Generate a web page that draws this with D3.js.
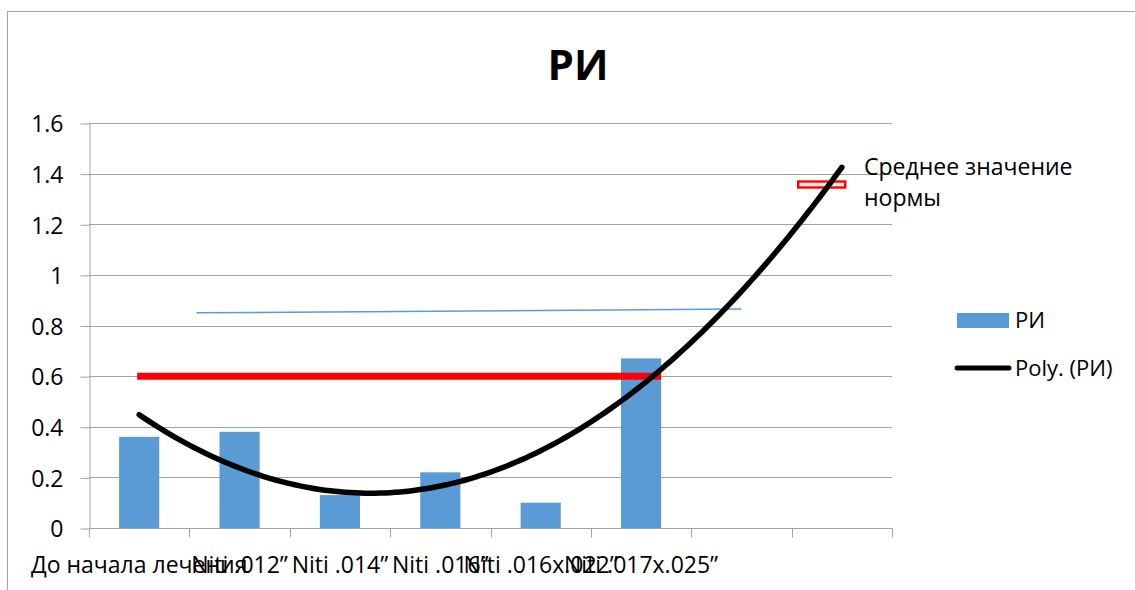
<!DOCTYPE html>
<html>
<head>
<meta charset="utf-8">
<script src="https://cdn.jsdelivr.net/npm/d3@7"></script>
<style>
  html, body { margin: 0; padding: 0; background: #fff; }
  svg { display: block; }
  text { font-family: "Open Sans", "DejaVu Sans", sans-serif; fill: #000; }
</style>
</head>
<body>
<svg id="chart" width="1135" height="590"></svg>
<script>
// ---- data ----
const categories = ["До начала лечения", "Niti .012”", "Niti .014”", "Niti .016”", "Niti .016x.022”", "Niti .017x.025”", "", ""];
const riValues = [0.36, 0.38, 0.13, 0.22, 0.10, 0.67];
const yTicks = [0, 0.2, 0.4, 0.6, 0.8, 1, 1.2, 1.4, 1.6];
const trendOrder = 2;          // polynomial trendline
const trendForward = 2;        // periods projected ahead
const normLevel = 0.6;         // thick red reference line
const normFrom = 0, normTo = 5; // categories the reference line spans
const guideLine = [{ pos: 0.57, value: 0.85 }, { pos: 6.0, value: 0.865 }];
const normMarker = { pos: 6.8, value: 1.357 };
const noteLines = ["Среднее значение", "нормы"];
const titleText = "РИ";
const legendItems = ["РИ", "Poly. (РИ)"];

// ---- layout ----
const svg = d3.select("#chart");
const plot = { left: 89, right: 892, top: 123, bottom: 528 };
const gridColor = "#a3a3a3";
const barColor = "#5b9bd5";

// chart frame
svg.append("rect")
  .attr("x", 7.5).attr("y", 11.5)
  .attr("width", 1200).attr("height", 700)
  .attr("fill", "none").attr("stroke", gridColor);

const x = d3.scaleBand().domain(d3.range(categories.length))
  .range([plot.left, plot.right]).paddingInner(0).paddingOuter(0);
const bw = x.bandwidth();
const xc = d3.scaleLinear().domain([0, categories.length])
  .range([plot.left + bw / 2, plot.right + bw / 2]); // category index -> centre
const y = d3.scaleLinear().domain([0, 1.6]).range([plot.bottom, plot.top]);

// horizontal gridlines
svg.append("g").selectAll("line").data(yTicks.slice(1)).join("line")
  .attr("x1", plot.left).attr("x2", plot.right)
  .attr("y1", d => Math.round(y(d)) + 0.5).attr("y2", d => Math.round(y(d)) + 0.5)
  .attr("stroke", gridColor).attr("stroke-width", 1);

// y axis
const yAxis = svg.append("g")
  .attr("transform", `translate(${plot.left + 0.5},0.5)`)
  .call(d3.axisLeft(y).tickValues(yTicks).tickFormat(d => String(d))
    .tickSizeInner(9).tickSizeOuter(0).tickPadding(17));
yAxis.select(".domain").attr("stroke", gridColor);
yAxis.selectAll(".tick line").attr("stroke", gridColor);
yAxis.selectAll(".tick text")
  .style("font-size", "23px").attr("dy", "0.36em");

// x axis: boundary ticks
const xTicks = svg.append("g")
  .attr("transform", `translate(0.5,${plot.bottom + 0.5})`);
xTicks.append("line").attr("x1", plot.left).attr("x2", plot.right)
  .attr("stroke", gridColor);
xTicks.selectAll("line.b").data(d3.range(categories.length + 1)).join("line")
  .attr("class", "b")
  .attr("x1", i => Math.round(plot.left + i * bw)).attr("x2", i => Math.round(plot.left + i * bw))
  .attr("y1", 0).attr("y2", 9).attr("stroke", gridColor);

// x axis: category labels
const xAxis = svg.append("g")
  .attr("transform", `translate(0,${plot.bottom})`)
  .call(d3.axisBottom(x).tickFormat(i => categories[i]).tickSize(0).tickPadding(29));
xAxis.select(".domain").remove();
xAxis.selectAll(".tick text").style("font-size", "23px");

// bars
const barW = bw * 0.4;
svg.append("g").selectAll("rect").data(riValues).join("rect")
  .attr("x", (d, i) => x(i) + (bw - barW) / 2)
  .attr("y", d => y(d))
  .attr("width", barW)
  .attr("height", d => y(0) - y(d))
  .attr("fill", barColor);

// thin guide line
svg.append("line")
  .attr("x1", xc(guideLine[0].pos)).attr("y1", y(guideLine[0].value))
  .attr("x2", xc(guideLine[1].pos)).attr("y2", y(guideLine[1].value))
  .attr("stroke", barColor).attr("stroke-width", 1.5);

// red norm line
svg.append("line")
  .attr("x1", xc(normFrom) - 2).attr("x2", xc(normTo) + barW / 2)
  .attr("y1", y(normLevel)).attr("y2", y(normLevel))
  .attr("stroke", "#ff0000").attr("stroke-width", 7);

// red norm marker
svg.append("rect")
  .attr("x", xc(normMarker.pos) - 23.5).attr("y", y(normMarker.value) - 3)
  .attr("width", 47).attr("height", 6)
  .attr("fill", "#ffe8e8").attr("stroke", "#ff0000").attr("stroke-width", 2.4);

// polynomial least-squares trendline
function polyFit(ys, order) {
  const n = order + 1;
  const A = Array.from({ length: n }, () => new Array(n + 1).fill(0));
  ys.forEach((v, i) => {
    const t = i + 1;
    for (let r = 0; r < n; r++) {
      for (let c = 0; c < n; c++) A[r][c] += Math.pow(t, r + c);
      A[r][n] += v * Math.pow(t, r);
    }
  });
  for (let p = 0; p < n; p++) {
    for (let r = p + 1; r < n; r++) {
      const f = A[r][p] / A[p][p];
      for (let c = p; c <= n; c++) A[r][c] -= f * A[p][c];
    }
  }
  const coef = new Array(n).fill(0);
  for (let r = n - 1; r >= 0; r--) {
    let s = A[r][n];
    for (let c = r + 1; c < n; c++) s -= A[r][c] * coef[c];
    coef[r] = s / A[r][r];
  }
  return t => coef.reduce((acc, k, j) => acc + k * Math.pow(t, j), 0);
}
const trend = polyFit(riValues, trendOrder);
const tEnd = riValues.length + trendForward;
const trendPts = d3.range(1, tEnd + 0.001, 0.05).map(t => [t, trend(t)]);
svg.append("path")
  .datum(trendPts)
  .attr("d", d3.line().x(d => xc(d[0] - 1)).y(d => y(d[1])).curve(d3.curveLinear))
  .attr("fill", "none").attr("stroke", "#000").attr("stroke-width", 5.5)
  .attr("stroke-linecap", "round");

// annotation
svg.append("text")
  .attr("x", 864).attr("y", 175)
  .style("font-size", "23px")
  .selectAll("tspan").data(noteLines).join("tspan")
  .attr("x", 864).attr("dy", (d, i) => i === 0 ? 0 : 31)
  .text(d => d);

// title
svg.append("text")
  .attr("x", 578).attr("y", 80)
  .attr("text-anchor", "middle")
  .style("font-size", "42px").style("font-weight", "bold")
  .text(titleText);

// legend
const lg = svg.append("g");
lg.append("rect").attr("x", 957).attr("y", 313).attr("width", 52).attr("height", 15)
  .attr("fill", barColor);
lg.append("text").attr("x", 1015).attr("y", 328).style("font-size", "22px").text(legendItems[0]);
lg.append("line").attr("x1", 957).attr("x2", 1009).attr("y1", 368).attr("y2", 368)
  .attr("stroke", "#000").attr("stroke-width", 5).attr("stroke-linecap", "round");
lg.append("text").attr("x", 1015).attr("y", 376).style("font-size", "22px").text(legendItems[1]);
</script>
</body>
</html>
